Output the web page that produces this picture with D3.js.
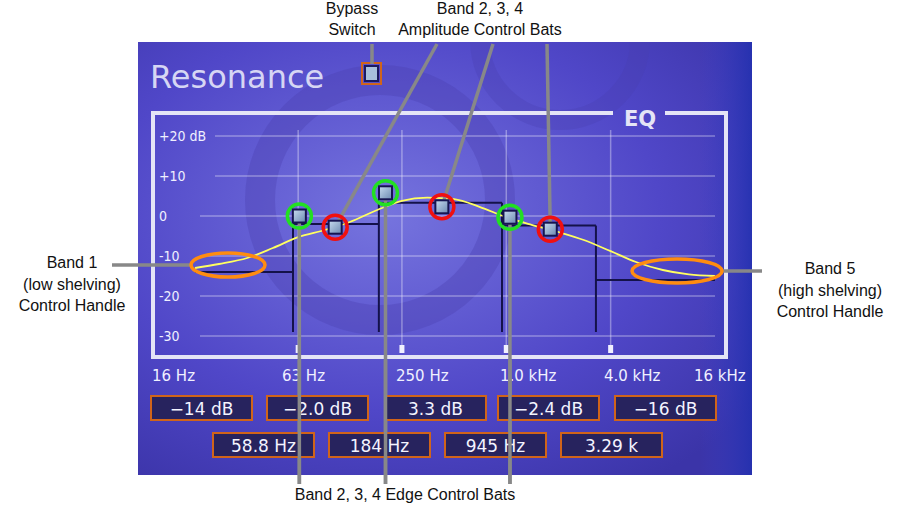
<!DOCTYPE html>
<html><head><meta charset="utf-8">
<script src="https://cdn.jsdelivr.net/npm/d3@7"></script>
<style>body{margin:0;background:#fff}svg{display:block}</style>
</head><body>
<script>
const dbTicks=[20,10,0,-10,-20,-30];
const dbLabels=["+20 dB","+10","0","-10","-20","-30"];
const freqTicks=[16,63,250,1000,4000,16000];
const freqLabels=["16 Hz","63 Hz","250 Hz","1.0 kHz","4.0 kHz","16 kHz"];
const bandGains=[-14,-2.0,3.3,-2.4,-16];
const gainLabels=["-14 dB","-2.0 dB","3.3 dB","-2.4 dB","-16 dB"];
const edgeFreqs=[58.8,184,945,3290];
const edgeLabels=["58.8 Hz","184 Hz","945 Hz","3.29 k"];
const edgeHandleFreq=[64,201,1050];
const edgeHandleDb=[0,5.8,-0.3];
const ampHandleFreq=[103,425,1794];
const ampHandleDb=[-2.8,2.3,-3.3];
const curveFreq=[16,22,32,45,63,90,125,180,250,350,500,700,1000,1400,2000,2800,4000,5600,8000,11300,16000];
const curveDb=[-13,-12,-10.5,-8,-5.3,-3.5,-1.5,1.5,3.8,4.6,4.2,2.3,-0.3,-2.2,-4,-6,-8.8,-11.5,-13.5,-14.6,-15];

const W=903,H=512;
const svg=d3.select("body").append("svg").attr("width",W).attr("height",H);
const x=d3.scaleLog().domain([16,16000]).range([195,715]);
const y=d3.scaleLinear().domain([-30,20]).range([336,136]);
const defs=svg.append("defs");
defs.append("clipPath").attr("id","pc").append("rect").attr("x",138).attr("y",42).attr("width",614).attr("height",433);
const rg=defs.append("radialGradient").attr("id","bg").attr("cx","0.4").attr("cy","0.4").attr("r","0.75");
rg.append("stop").attr("offset","0").attr("stop-color","#7674de");
rg.append("stop").attr("offset","0.6").attr("stop-color","#5047c8");
rg.append("stop").attr("offset","1").attr("stop-color","#3b34a8");
const hg=defs.append("linearGradient").attr("id","hg").attr("x1",0).attr("y1",0).attr("x2",1).attr("y2",1);
hg.append("stop").attr("offset",0).attr("stop-color","#c8dcf0");
hg.append("stop").attr("offset",1).attr("stop-color","#6a88b0");
const rgt=defs.append("linearGradient").attr("id","rgt").attr("x1",0).attr("x2",1);
rgt.append("stop").attr("offset",0).attr("stop-color","#3a40c8").attr("stop-opacity",0);
rgt.append("stop").attr("offset",1).attr("stop-color","#2030b0").attr("stop-opacity",0.8);

const bgG=svg.append("g").attr("clip-path","url(#pc)");
bgG.append("rect").attr("x",138).attr("y",42).attr("width",614).attr("height",433).attr("fill","url(#bg)");
bgG.append("rect").attr("x",700).attr("y",42).attr("width",52).attr("height",433).attr("fill","url(#rgt)");
bgG.append("circle").attr("cx",380).attr("cy",200).attr("r",120).attr("fill","none").attr("stroke","#4a3fb0").attr("stroke-width",30).attr("opacity",0.35);
bgG.append("circle").attr("cx",560).attr("cy",40).attr("r",80).attr("fill","none").attr("stroke","#4a3fb0").attr("stroke-width",20).attr("opacity",0.3);

svg.append("text").attr("x",150).attr("y",88).text("Resonance").attr("font-family","DejaVu Sans").attr("font-size",32).attr("fill","#d6d6f4");
svg.append("rect").attr("x",362).attr("y",63).attr("width",19).attr("height",21).attr("fill","none").attr("stroke","#d0641a").attr("stroke-width",2);
svg.append("rect").attr("x",365).attr("y",66).attr("width",13).attr("height",15).attr("fill","#a8c0dc").attr("stroke","#1c1a60").attr("stroke-width",2);

svg.append("path").attr("d","M613,113 H153 V357 H726 V113 H665").attr("fill","none").attr("stroke","#e4e4f6").attr("stroke-width",4);
svg.append("text").attr("x",640).attr("y",126).attr("text-anchor","middle").text("EQ").attr("font-family","DejaVu Sans").attr("font-weight","bold").attr("font-size",21).attr("fill","#e4e4f6");

const grid=svg.append("g").attr("stroke","#ffffff").attr("stroke-opacity",0.35).attr("stroke-width",1.5);
grid.selectAll("line.h").data(dbTicks).join("line").attr("x1",d=>d>=10?215:200).attr("x2",715).attr("y1",d=>y(d)).attr("y2",d=>y(d));
grid.selectAll("line.v").data(freqTicks.slice(1,5)).join("line").attr("x1",d=>x(d)).attr("x2",d=>x(d)).attr("y1",130).attr("y2",348);
svg.selectAll("rect.tk").data(freqTicks.slice(1,5)).join("rect").attr("x",d=>x(d)-2.5).attr("y",345).attr("width",5).attr("height",8).attr("fill","#f0f0ff");
svg.selectAll("text.yl").data(dbTicks).join("text").attr("x",159).attr("y",d=>y(d)+5).text((d,i)=>dbLabels[i]).attr("font-family","DejaVu Sans Condensed").attr("font-size",14).attr("fill","#f0f0ff");
const xlx=[152,282,396,500,604,694];
svg.selectAll("text.xl").data(freqLabels).join("text").attr("x",(d,i)=>xlx[i]).attr("y",381).text(d=>d).attr("font-family","DejaVu Sans").attr("font-size",15).attr("fill","#f0f0ff");

const edges=[16,...edgeFreqs,16000];
const st=svg.append("g").attr("stroke","#14124a").attr("stroke-width",2).attr("fill","none");
bandGains.forEach((g,i)=>{st.append("line").attr("x1",x(edges[i])).attr("x2",x(edges[i+1])).attr("y1",y(g)).attr("y2",y(g));});
edgeFreqs.forEach((f,i)=>{st.append("line").attr("x1",x(f)).attr("x2",x(f)).attr("y1",y(Math.max(bandGains[i],bandGains[i+1]))).attr("y2",y(-29));});

svg.append("path").datum(curveFreq.map((f,i)=>[f,curveDb[i]])).attr("d",d3.line().x(d=>x(d[0])).y(d=>y(d[1])).curve(d3.curveMonotoneX)).attr("fill","none").attr("stroke","#ffff60").attr("stroke-width",1.8);

const ann=svg.append("g").attr("stroke","#888").attr("stroke-width",3.5);
ann.append("line").attr("x1",372).attr("y1",44).attr("x2",372).attr("y2",64);
const ampTop=[437,493,547];
ampHandleFreq.forEach((f,i)=>ann.append("line").attr("x1",ampTop[i]).attr("y1",44).attr("x2",x(f)).attr("y2",y(ampHandleDb[i])));
edgeHandleFreq.forEach((f,i)=>ann.append("line").attr("x1",x(f)).attr("y1",y(edgeHandleDb[i])).attr("x2",x(f)).attr("y2",484));
ann.append("line").attr("x1",112).attr("y1",265).attr("x2",192).attr("y2",265);
ann.append("line").attr("x1",722).attr("y1",271).attr("x2",762).attr("y2",271);

svg.append("ellipse").attr("cx",228).attr("cy",265).attr("rx",37).attr("ry",12).attr("fill","none").attr("stroke","#ff8c10").attr("stroke-width",3.5);
svg.append("ellipse").attr("cx",677).attr("cy",271).attr("rx",45).attr("ry",12).attr("fill","none").attr("stroke","#ff8c10").attr("stroke-width",3.5);

function handle(cx,cy,col){
  svg.append("circle").attr("cx",cx).attr("cy",cy).attr("r",12).attr("fill","none").attr("stroke",col).attr("stroke-width",3.5);
  svg.append("rect").attr("x",cx-6.5).attr("y",cy-6.5).attr("width",13).attr("height",13).attr("fill","url(#hg)").attr("stroke","#161450").attr("stroke-width",2);
}
edgeHandleFreq.forEach((f,i)=>handle(x(f),y(edgeHandleDb[i]),"#22e022"));
ampHandleFreq.forEach((f,i)=>handle(x(f),y(ampHandleDb[i]),"#f01010"));

function box(bx,by,t){
  svg.append("rect").attr("x",bx).attr("y",by).attr("width",101).attr("height",24).attr("fill","#27235e").attr("stroke","#d0641a").attr("stroke-width",2);
  svg.append("text").attr("x",bx+50.5).attr("y",by+19).attr("text-anchor","middle").text(t).attr("font-family","DejaVu Sans").attr("font-size",17).attr("fill","#f4f4ff");
}
const r1=[151,267,385,498,615],r2=[213,329,445,561];
gainLabels.forEach((t,i)=>box(r1[i],396,t.replace("-","\u2212")));
edgeLabels.forEach((t,i)=>box(r2[i],433,t));

const ann2=svg.append("g").attr("stroke","#888").attr("stroke-width",3.5);
edgeHandleFreq.forEach((f)=>ann2.append("line").attr("x1",x(f)).attr("y1",360).attr("x2",x(f)).attr("y2",484));

const tf={"font-family":"Liberation Sans Narrow, Liberation Sans","font-size":16,"fill":"#111"};
function txt(t,tx,ty){const e=svg.append("text").attr("x",tx).attr("y",ty).attr("text-anchor","middle").text(t);for(const k in tf)e.attr(k,tf[k]);}
txt("Bypass",352,14);txt("Switch",352,35);
txt("Band 2, 3, 4",480,14);txt("Amplitude Control Bats",480,35);
txt("Band 1",72,268);txt("(low shelving)",72,290);txt("Control Handle",72,311);
txt("Band 5",830,274);txt("(high shelving)",830,296);txt("Control Handle",830,317);
txt("Band 2, 3, 4 Edge Control Bats",405,500);
</script>
</body></html>
